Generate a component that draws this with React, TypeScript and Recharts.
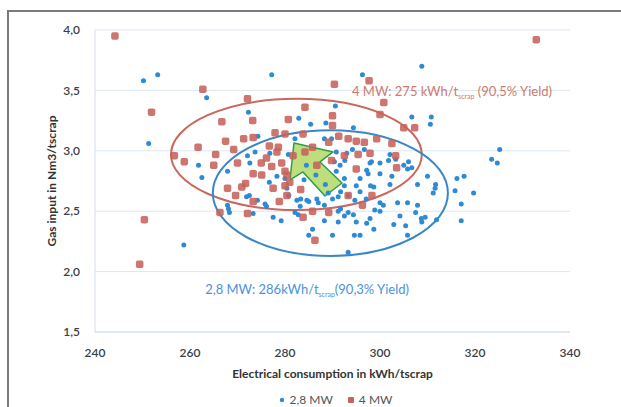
import React from 'react';
import { ScatterChart, Scatter, XAxis, YAxis, CartesianGrid, ReferenceArea, ReferenceDot, Legend } from 'recharts';

const X_TICKS = [240, 260, 280, 300, 320, 340];
const Y_TICKS = [1.5, 2.0, 2.5, 3.0, 3.5, 4.0];

// 2,8 MW heats: [kWh/tscrap, Nm3/tscrap]
const mw28Points: [number, number][] = [
  [250.2, 3.58], [253.2, 3.63], [277.2, 3.63], [296.3, 3.63], [308.8, 3.70], [263.5, 3.44],
  [251.3, 3.06], [258.7, 2.22], [290.6, 3.37], [272.3, 3.32], [306.7, 3.28], [310.8, 3.28],
  [310.6, 3.22], [325.2, 3.01], [323.5, 2.93], [324.7, 2.90], [261.8, 2.88], [262.5, 2.78],
  [267.9, 2.83], [273.7, 2.99], [272.1, 2.96], [274.3, 3.12], [282.9, 3.27], [285.4, 3.22],
  [288.6, 3.23], [289.8, 3.10], [288.3, 3.10], [294.4, 3.19], [310.0, 2.79], [311.7, 2.72],
  [311.2, 2.65], [315.8, 2.67], [316.2, 2.77], [317.7, 2.79], [317.1, 2.56], [319.7, 2.65],
  [317.1, 2.42], [307.9, 2.72], [307.5, 2.49], [308.7, 2.44], [305.8, 2.85], [305.0, 2.88],
  [303.3, 2.93], [302.5, 2.79], [302.1, 2.72], [303.7, 2.57], [304.2, 2.46], [302.9, 2.39],
  [305.4, 2.38], [305.8, 2.30], [298.7, 2.35], [297.9, 2.44], [300.0, 2.57], [298.7, 2.70],
  [297.5, 2.81], [300.0, 2.81], [293.3, 2.49], [295.0, 2.41], [294.6, 2.30], [295.8, 2.30],
  [293.3, 2.16], [290.0, 2.30], [291.2, 2.41], [288.3, 2.42], [285.8, 2.35], [285.0, 2.30],
  [277.5, 2.45], [279.2, 2.42], [282.1, 2.49], [283.3, 2.60], [285.0, 2.58], [286.7, 2.60],
  [288.3, 2.55], [290.0, 2.60], [291.7, 2.66], [292.5, 2.71], [295.0, 2.71], [295.8, 2.66],
  [297.1, 2.60], [291.7, 2.52], [292.5, 2.46], [267.9, 2.55], [268.3, 2.49], [272.5, 2.63],
  [274.2, 2.59], [275.8, 2.56], [276.7, 2.74], [278.3, 2.79], [280.0, 2.77], [280.8, 2.63],
  [290.4, 2.91], [290.8, 2.83], [292.5, 2.77], [290.8, 2.99], [294.2, 3.01], [296.7, 3.01],
  [297.9, 2.90], [300.0, 2.90], [305.8, 2.57], [307.9, 2.55], [297.2, 2.40], [298.9, 2.51],
  [300.7, 2.55], [309.5, 2.45], [308.8, 2.41], [311.9, 2.43], [311.6, 2.69], [298.0, 2.71],
  [295.8, 2.77], [293.3, 2.63], [294.7, 2.59], [291.2, 2.62], [289.1, 2.65], [287.0, 2.57],
  [284.6, 2.59], [300.0, 2.50], [291.2, 2.50], [294.4, 2.47], [293.0, 2.98], [292.6, 2.92],
  [298.2, 2.91], [302.1, 2.97], [301.8, 2.92], [306.0, 2.91], [306.7, 2.86], [297.2, 2.84],
  [291.6, 2.88], [282.1, 3.10], [272.6, 2.90], [276.8, 2.98], [280.7, 2.97], [280.4, 2.69],
  [271.9, 2.62], [276.1, 2.54], [268.1, 2.52], [282.5, 2.59], [283.2, 2.54], [273.3, 2.48],
  [282.8, 2.47], [284.5, 2.88], [286.5, 2.80], [288.5, 2.72], [284.0, 2.76],
];

// 4 MW heats
const mw4Points: [number, number][] = [
  [244.2, 3.95], [332.9, 3.92], [262.7, 3.51], [251.9, 3.32], [250.4, 2.43], [249.4, 2.06],
  [290.4, 3.55], [297.7, 3.58], [300.8, 3.40], [272.1, 3.43], [284.2, 3.36], [290.0, 3.29],
  [266.7, 3.24], [300.0, 3.30], [305.0, 3.19], [307.3, 3.19], [280.7, 3.26], [256.7, 2.96],
  [258.8, 2.91], [261.7, 3.03], [265.4, 2.97], [267.5, 3.08], [269.2, 3.01], [271.3, 3.10],
  [265.0, 2.88], [270.0, 2.90], [273.3, 3.11], [277.9, 3.15], [280.0, 3.14], [283.8, 3.14],
  [276.7, 3.04], [278.3, 2.99], [275.0, 2.90], [273.3, 2.81], [271.7, 2.73], [267.9, 2.69],
  [269.6, 2.63], [266.3, 2.49], [272.1, 2.48], [273.3, 2.58], [277.5, 2.69], [280.0, 2.71],
  [278.8, 2.58], [280.0, 2.83], [283.3, 2.68], [283.8, 2.45], [285.8, 2.50], [286.3, 2.26],
  [289.2, 2.49], [293.3, 2.63], [296.3, 2.55], [298.3, 2.63], [295.0, 2.85], [292.5, 2.96],
  [293.3, 3.10], [295.0, 3.08], [296.7, 3.07], [295.4, 2.97], [302.5, 3.06], [303.3, 2.96],
  [291.3, 3.12], [289.2, 3.07], [286.7, 2.88], [284.2, 2.99], [281.7, 2.96], [285.8, 3.03],
  [290.0, 3.21], [273.2, 3.25], [276.1, 2.94], [278.6, 3.03], [275.1, 2.80], [277.2, 2.87],
  [279.3, 2.90], [280.4, 2.80], [299.3, 3.10], [297.9, 2.98], [289.8, 2.92], [303.5, 2.86],
  [270.9, 2.70], [280.4, 2.63], [281.0, 2.74],
];

const mw28 = mw28Points.map(([x, y]) => ({ x, y }));
const mw4 = mw4Points.map(([x, y]) => ({ x, y }));

const BLUE = '#2f8ad6';
const RED = '#c6625a';

// annotation boxes (data coords)
const ellipse4 = { x1: 256.0, x2: 308.8, y1: 2.51, y2: 3.43 };
const ellipse28 = { x1: 264.8, x2: 314.3, y1: 2.13, y2: 3.17 };
const arrowBox = { x1: 281.05, x2: 292.0, y1: 2.626, y2: 3.065 };
// arrow outline as fractions of its box
const arrowShape = [[0.077, 0], [0.827, 0.17], [0.577, 0.358], [1, 0.755], [0.673, 1], [0.25, 0.547], [0, 0.698]];

const fmt = (v: number) => v.toFixed(1).replace('.', ',');
const FONT = 'Lato, sans-serif';

const BlueDot = (p: any) => <circle cx={p.cx} cy={p.cy} r={2.5} fill={BLUE} />;
const RedSquare = (p: any) => <rect x={p.cx - 3.75} y={p.cy - 3.75} width={7.5} height={7.5} rx={1.8} fill={RED} fillOpacity={0.88} />;

const ellipseShape = (color: string) => (p: any) => (
  <ellipse cx={p.x + p.width / 2} cy={p.y + p.height / 2} rx={p.width / 2} ry={p.height / 2} fill="none" stroke={color} strokeWidth={2} />
);

const ArrowShape = (p: any) => {
  const pts = arrowShape.map(([fx, fy]) => `${p.x + fx * p.width},${p.y + fy * p.height}`).join(' ');
  return <polygon points={pts} fill="#b3d766" fillOpacity={0.85} stroke="#2e9e45" strokeWidth={1.5} strokeLinejoin="round" />;
};

const yieldText = (color: string, head: string, tail: string) => (p: any) => (
  <text x={p.cx} y={p.cy + 4} fill={color} fontSize={13} fontFamily={FONT}>
    <tspan>{head}</tspan>
    <tspan fontSize={7} dy={3}>scrap</tspan>
    <tspan dy={-3}>{tail}</tspan>
  </text>
);

const LegendContent = () => (
  <div style={{ display: 'flex', justifyContent: 'center', paddingLeft: 100, paddingTop: 3, fontSize: 12, color: '#555', fontFamily: FONT, lineHeight: '20px' }}>
    <span style={{ display: 'flex', alignItems: 'center', marginRight: 14 }}>
      <svg width={8} height={8} style={{ marginRight: 4 }}><circle cx={4} cy={4} r={2.2} fill={BLUE} /></svg>2,8 MW
    </span>
    <span style={{ display: 'flex', alignItems: 'center' }}>
      <svg width={8} height={8} style={{ marginRight: 4 }}><rect x={1} y={1} width={6} height={6} rx={1} fill={RED} /></svg>4 MW
    </span>
  </div>
);

export default function App() {
  return (
    <div style={{ position: 'relative', width: 621, height: 407, overflow: 'hidden', background: '#fff' }}>
      <style>{`body{margin:0}`}</style>
      <div style={{ position: 'absolute', left: 7, top: 10, width: 700, height: 500, border: '2px solid #7a7a7a' }} />
      <ScatterChart width={621} height={407} margin={{ top: 30, right: 51, bottom: 0, left: 0 }} style={{ position: 'absolute', left: 0, top: 0 }}>
        <CartesianGrid vertical={false} stroke="#dde7f1" />
        <XAxis
          type="number"
          dataKey="x"
          domain={[240, 340]}
          ticks={X_TICKS}
          height={55}
          tickLine={false}
          axisLine={{ stroke: '#d3deea' }}
          tickMargin={10}
          tick={{ fill: '#3a3f48', fontSize: 12, fontWeight: 600, fontFamily: FONT }}
          label={{ value: 'Electrical consumption in kWh/tscrap', position: 'insideBottom', offset: 9, fill: '#333', fontSize: 12, fontWeight: 700, fontFamily: FONT }}
        />
        <YAxis
          type="number"
          dataKey="y"
          domain={[1.5, 4]}
          ticks={Y_TICKS}
          width={95}
          tickLine={false}
          axisLine={{ stroke: '#d3deea' }}
          tickMargin={9}
          tickFormatter={fmt}
          tick={{ fill: '#3a3f48', fontSize: 12, fontWeight: 600, fontFamily: FONT }}
          label={{ value: 'Gas input in Nm3/tscrap', angle: -90, position: 'center', dx: 4, fill: '#333', fontSize: 12, fontWeight: 700, fontFamily: FONT }}
        />
        <Legend verticalAlign="bottom" height={20} content={<LegendContent />} />
        <Scatter name="2,8 MW" data={mw28} fill={BLUE} shape={BlueDot} isAnimationActive={false} />
        <Scatter name="4 MW" data={mw4} fill={RED} shape={RedSquare} isAnimationActive={false} />
        <ReferenceArea {...ellipse4} shape={ellipseShape('#c8685e')} />
        <ReferenceArea {...ellipse28} shape={ellipseShape('#3a87c8')} />
        <ReferenceArea {...arrowBox} shape={ArrowShape} />
        <ReferenceDot x={294.1} y={3.487} r={0} shape={yieldText('#cf7a70', '4 MW: 275 kWh/t', ' (90,5% Yield)')} />
        <ReferenceDot x={263.2} y={1.85} r={0} shape={yieldText('#4a93da', '2,8 MW: 286kWh/t', '(90,3% Yield)')} />
      </ScatterChart>
    </div>
  );
}
